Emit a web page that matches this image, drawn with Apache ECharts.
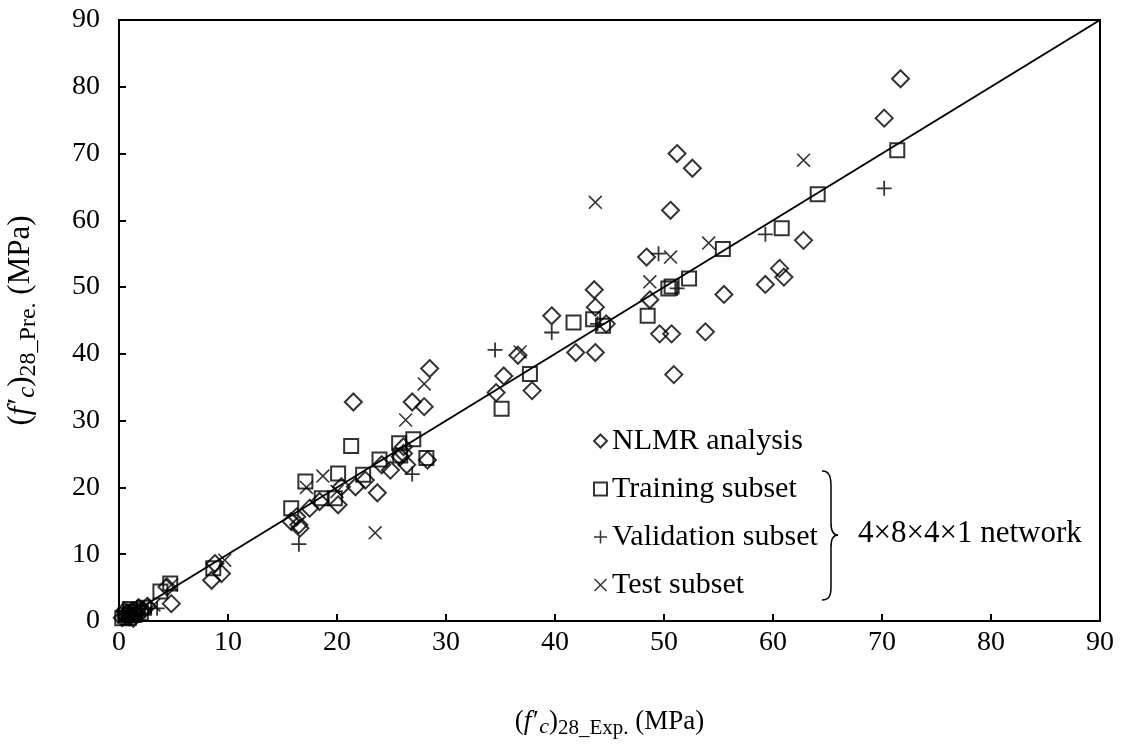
<!DOCTYPE html>
<html><head><meta charset="utf-8">
<script src="https://cdn.jsdelivr.net/npm/echarts@6/dist/echarts.min.js"></script>
<style>html,body{margin:0;padding:0;background:#fff}#c{width:1125px;height:754px}</style>
</head><body><div id="c"></div>
<script>
const xTicks = [0,10,20,30,40,50,60,70,80,90];
const nlmr = [[71.7,81.2],[70.2,75.3],[51.2,70.0],[52.6,67.8],[50.6,61.5],[62.8,57.0],[60.6,52.8],[61.0,51.5],[59.3,50.4],[55.5,48.9],[53.8,43.3],[50.7,43.0],[49.6,43.0],[50.9,36.9],[48.4,54.5],[48.7,48.1],[43.6,49.6],[43.7,47.0],[44.7,44.5],[43.7,40.2],[41.9,40.2],[39.7,45.7],[36.6,39.8],[35.3,36.7],[34.6,34.2],[37.9,34.5],[28.5,37.8],[26.9,32.8],[28.0,32.1],[21.5,32.8],[28.3,24.1],[26.1,25.1],[26.4,23.4],[26.1,26.1],[25.8,24.6],[24.1,23.4],[24.9,22.6],[23.7,19.2],[22.6,21.1],[21.7,20.1],[20.4,20.1],[20.1,17.4],[18.4,17.9],[17.5,16.9],[16.6,13.9],[16.3,15.6],[15.8,14.9],[16.5,14.4],[8.8,8.6],[8.5,6.1],[9.4,7.1],[4.4,5.1],[4.8,2.6],[0.3,0.5],[0.6,0.8],[0.8,1.2],[1.0,0.6],[1.2,1.5],[1.5,1.0],[1.8,2.0],[2.2,1.6],[2.6,2.2],[0.5,1.5],[1.3,0.4]];
const training = [[71.4,70.5],[64.1,63.9],[60.8,58.8],[55.4,55.7],[52.3,51.3],[50.4,49.8],[50.7,50.1],[48.5,45.7],[43.5,45.2],[44.4,44.2],[41.7,44.7],[37.7,37.0],[35.1,31.8],[28.2,24.4],[27.0,27.2],[25.7,26.6],[25.8,24.8],[21.3,26.2],[23.9,24.2],[22.4,21.9],[20.1,22.1],[17.1,20.9],[18.6,18.4],[19.8,18.4],[15.8,16.9],[8.65,7.9],[4.7,5.6],[3.8,4.4],[0.3,0.4],[0.6,0.9],[0.9,0.5],[1.1,1.3],[1.4,0.9],[1.7,1.6],[2.0,1.2],[2.3,2.0],[1.0,1.8]];
const validation = [[70.2,64.8],[59.3,57.9],[49.5,55.0],[51.2,49.8],[43.9,44.5],[39.7,43.2],[34.5,40.6],[26.9,22.0],[16.5,11.5],[3.5,1.9],[0.5,0.4],[1.0,1.1],[1.6,1.2],[2.1,1.8]];
const test = [[62.8,69.0],[43.7,62.7],[54.1,56.6],[50.6,54.5],[48.7,50.8],[36.8,40.3],[28.0,35.5],[26.3,30.1],[23.5,13.2],[18.7,21.7],[17.2,20.0],[20.0,19.4],[9.7,9.1],[4.8,5.4],[0.4,0.6],[0.9,0.7],[1.4,1.6],[2.4,2.1],[3.2,2.4]];
const refLine = [[0,0],[90,90]];
const names = ['NLMR analysis','Training subset','Validation subset','Test subset'];

const FONT = 'Liberation Serif';
const plus = 'path://M0,4.4H10V5.6H0Z M4.4,0H5.6V10H4.4Z';
const cross = 'path://M0,0.8L0.8,0L10,9.2L9.2,10Z M9.2,0L10,0.8L0.8,10L0,9.2Z';
const hollow = {color:'rgba(0,0,0,0)', borderColor:'#000', borderWidth:2};
const bs = {stroke:'#000',lineWidth:1.5,fill:'none'};
function richName(fs){
  return {fi:{fontStyle:'italic',fontFamily:FONT,fontSize:fs,color:'#000'},
          ci:{fontStyle:'italic',fontFamily:FONT,fontSize:Math.round(fs*0.82),color:'#000',padding:[Math.round(fs*0.42),0,0,2]},
          sub:{fontFamily:FONT,fontSize:Math.round(fs*0.78),color:'#000',padding:[Math.round(fs*0.5),0,0,0]}};
}
const chart = echarts.init(document.getElementById('c'));
chart.setOption({
  animation:false,
  backgroundColor:'#fff',
  grid:{left:119,right:25,top:20,bottom:133,containLabel:false,outerBoundsMode:'none',show:true,borderColor:'#000',borderWidth:2,backgroundColor:'transparent'},
  xAxis:{type:'value',min:0,max:90,interval:10,
    axisLine:{onZero:false,lineStyle:{color:'#000',width:2}},
    axisTick:{inside:true,length:7,lineStyle:{color:'#000',width:2}},
    splitLine:{show:false},
    axisLabel:{color:'#000',fontFamily:FONT,fontSize:28,margin:8},
    name:'({fi|f′}{ci|c}){sub|28_Exp.} (MPa)',nameLocation:'middle',nameGap:83,
    nameTextStyle:{color:'#000',fontFamily:FONT,fontSize:27,rich:richName(27)}
  },
  yAxis:{type:'value',min:0,max:90,interval:10,
    axisLine:{onZero:false,lineStyle:{color:'#000',width:2}},
    axisTick:{inside:true,length:7,lineStyle:{color:'#000',width:2}},
    splitLine:{show:false},
    axisLabel:{color:'#000',fontFamily:FONT,fontSize:28,margin:19},
    name:'({fi|f′}{ci|c}){sub|28_Pre.} (MPa)',nameLocation:'middle',nameGap:78,nameRotate:90,
    nameTextStyle:{color:'#000',fontFamily:FONT,fontSize:31,rich:richName(31)}
  },
  legend:{orient:'vertical',left:588,top:420,itemGap:16,itemWidth:13,itemHeight:13,
    textStyle:{color:'#000',fontFamily:FONT,fontSize:30,lineHeight:32},
    data:[{name:names[0],icon:'diamond'},{name:names[1],icon:'rect'},{name:names[2],icon:plus},{name:names[3],icon:cross}]
  },
  graphic:[
    {type:'bezierCurve',shape:{x1:822,y1:471,cpx1:829,cpy1:471,cpx2:831,cpy2:476,x2:831,y2:486},style:bs},
    {type:'line',shape:{x1:831,y1:486,x2:831,y2:523},style:bs},
    {type:'bezierCurve',shape:{x1:831,y1:523,cpx1:831,cpy1:531,cpx2:834,cpy2:535,x2:838,y2:535},style:bs},
    {type:'bezierCurve',shape:{x1:838,y1:535,cpx1:834,cpy1:535,cpx2:831,cpy2:539,x2:831,y2:547},style:bs},
    {type:'line',shape:{x1:831,y1:547,x2:831,y2:587},style:bs},
    {type:'bezierCurve',shape:{x1:831,y1:587,cpx1:831,cpy1:596,cpx2:829,cpy2:600,x2:822,y2:600},style:bs},
    {type:'text',left:858,top:518,style:{text:'4×8×4×1 network',fill:'#000',font:'31px "Liberation Serif"'}}
  ],
  series:[
    {type:'line',data:refLine,symbol:'none',lineStyle:{color:'#000',width:2},silent:true,z:1},
    {name:names[0],type:'scatter',data:nlmr,symbol:'diamond',symbolSize:[17,17],itemStyle:hollow,z:3},
    {name:names[1],type:'scatter',data:training,symbol:'rect',symbolSize:[14,14],itemStyle:hollow,z:3},
    {name:names[2],type:'scatter',data:validation,symbol:plus,symbolSize:15,itemStyle:{color:'#000'},z:3},
    {name:names[3],type:'scatter',data:test,symbol:cross,symbolSize:14,itemStyle:{color:'#000'},z:3}
  ]
});
</script></body></html>
